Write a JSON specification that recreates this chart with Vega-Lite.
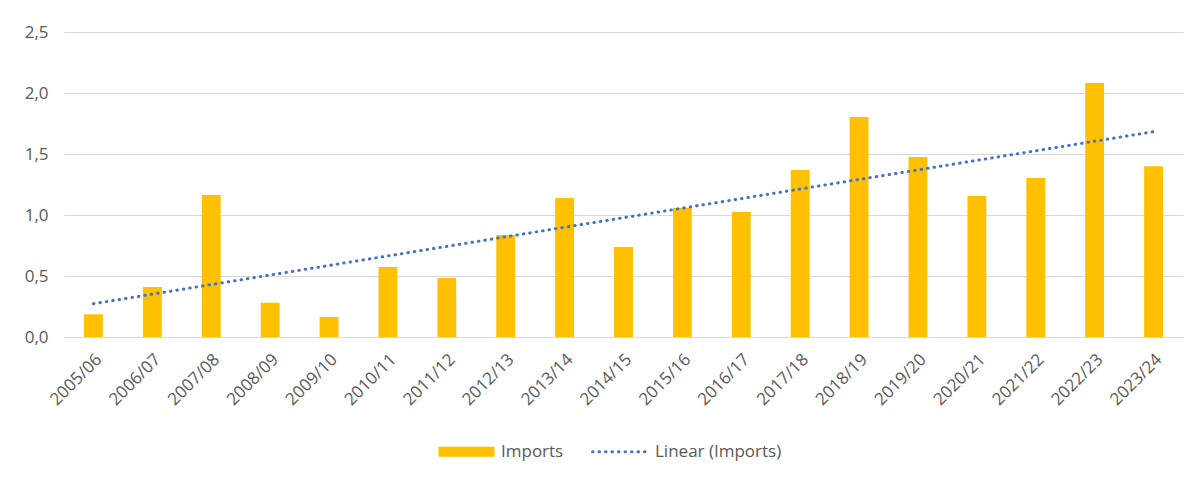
{
  "$schema": "https://vega.github.io/schema/vega-lite/v6.json",
  "autosize": {"type": "none"},
  "width": 1119,
  "height": 305,
  "padding": {"left": 64, "top": 32, "right": 20, "bottom": 140},
  "background": "white",
  "config": {
    "view": {"stroke": null},
    "font": "Open Sans",
    "axis": {"labelFont": "Open Sans", "labelColor": "#595959", "labelFontSize": 17, "title": null}
  },
  "datasets": {
    "bars": [
      {"year": "2005/06", "value": 0.186, "series": "Imports"},
      {"year": "2006/07", "value": 0.41, "series": "Imports"},
      {"year": "2007/08", "value": 1.164, "series": "Imports"},
      {"year": "2008/09", "value": 0.281, "series": "Imports"},
      {"year": "2009/10", "value": 0.164, "series": "Imports"},
      {"year": "2010/11", "value": 0.574, "series": "Imports"},
      {"year": "2011/12", "value": 0.484, "series": "Imports"},
      {"year": "2012/13", "value": 0.836, "series": "Imports"},
      {"year": "2013/14", "value": 1.139, "series": "Imports"},
      {"year": "2014/15", "value": 0.738, "series": "Imports"},
      {"year": "2015/16", "value": 1.057, "series": "Imports"},
      {"year": "2016/17", "value": 1.025, "series": "Imports"},
      {"year": "2017/18", "value": 1.369, "series": "Imports"},
      {"year": "2018/19", "value": 1.803, "series": "Imports"},
      {"year": "2019/20", "value": 1.475, "series": "Imports"},
      {"year": "2020/21", "value": 1.156, "series": "Imports"},
      {"year": "2021/22", "value": 1.303, "series": "Imports"},
      {"year": "2022/23", "value": 2.082, "series": "Imports"},
      {"year": "2023/24", "value": 1.40, "series": "Imports"}
    ],
    "trend": [
      {"year": "2005/06", "value": 0.273, "series": "Linear (Imports)"},
      {"year": "2023/24", "value": 1.683, "series": "Linear (Imports)"}
    ]
  },
  "encoding": {
    "x": {
      "field": "year", "type": "ordinal", "sort": null,
      "scale": {"paddingInner": 0.68, "paddingOuter": 0.34},
      "axis": {"labelAngle": -45, "labelPadding": 14, "ticks": false, "domain": true, "domainColor": "#D9D9D9", "domainWidth": 1, "labelAlign": "right", "labelBaseline": "top"}
    },
    "y": {
      "field": "value", "type": "quantitative",
      "scale": {"domain": [0, 2.5], "nice": false},
      "axis": {"values": [0, 0.5, 1, 1.5, 2, 2.5], "labelExpr": "replace(format(datum.value, '.1f'), '.', ',')", "domain": false, "ticks": false, "labelPadding": 16, "gridColor": "#D9D9D9", "gridWidth": 1}
    },
    "color": {
      "field": "series", "type": "nominal",
      "scale": {"domain": ["Imports", "Linear (Imports)"], "range": ["#FFC000", "#4472C4"]},
      "legend": {
        "title": null,
        "orient": "none",
        "direction": "horizontal",
        "legendX": 394,
        "legendY": 411,
        "symbolSize": 3136,
        "labelFont": "Open Sans",
        "labelFontSize": 17,
        "labelColor": "#595959",
        "labelOffset": 26,
        "columnPadding": 22,
        "encode": {
          "symbols": {
            "update": {
              "shape": {"signal": "datum.value === 'Imports' ? 'M-1,-0.18H1V0.18H-1Z' : 'stroke'"},
              "fill": {"signal": "datum.value === 'Imports' ? '#FFC000' : 'transparent'"},
              "stroke": {"signal": "datum.value === 'Imports' ? 'transparent' : '#4472C4'"},
              "strokeWidth": {"signal": "datum.value === 'Imports' ? 0 : 3"},
              "strokeDash": {"signal": "datum.value === 'Imports' ? [] : [0.5, 6]"},
              "strokeCap": {"value": "round"},
              "opacity": {"value": 1}
            }
          }
        }
      }
    }
  },
  "layer": [
    {
      "data": {"name": "bars"},
      "mark": {"type": "bar"}
    },
    {
      "data": {"name": "trend"},
      "mark": {"type": "line", "strokeWidth": 3, "strokeDash": [0.5, 6], "strokeCap": "round"}
    }
  ]
}
